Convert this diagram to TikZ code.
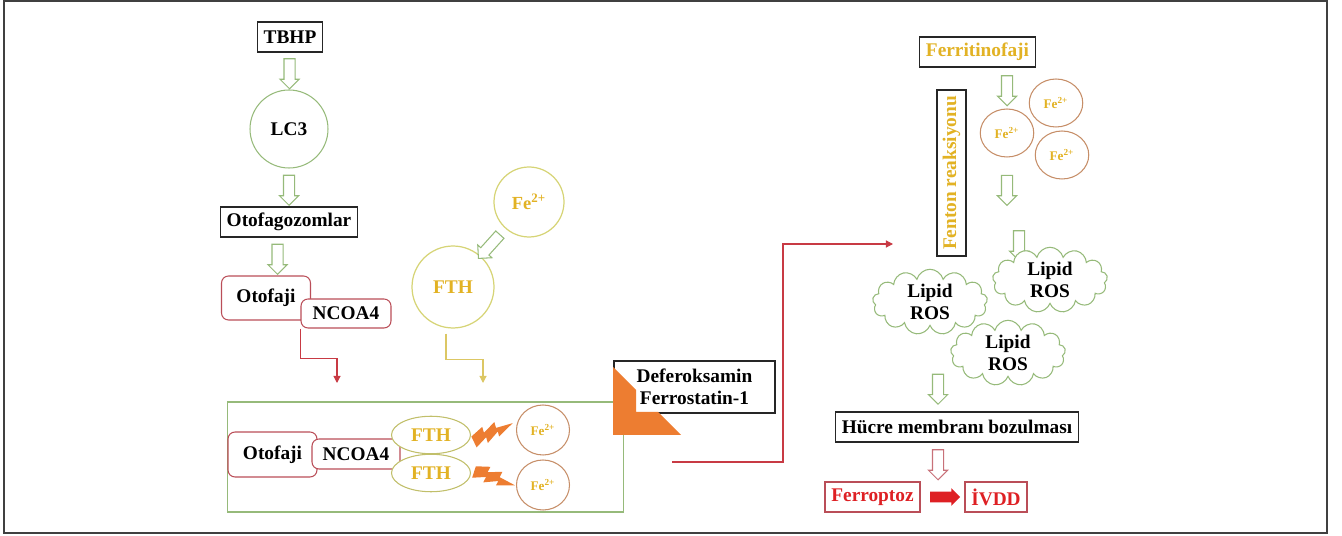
\documentclass[tikz,border=0pt]{standalone}
\usepackage{fontspec}
\setmainfont{Liberation Serif}
\usetikzlibrary{
  arrows.meta,calc,positioning,shapes.geometric,
  shapes.symbols,shapes.arrows
}
\definecolor{LeafGreen}{RGB}{150,186,122}
\definecolor{GoldText}{RGB}{226,178,36}
\definecolor{PaleYellow}{RGB}{214,212,118}
\definecolor{RustBrown}{RGB}{198,142,104}
\definecolor{BoxRed}{RGB}{186,78,88}
\definecolor{LineRed}{RGB}{200,58,68}
\definecolor{FlagRed}{RGB}{222,32,36}
\definecolor{BoltOrange}{RGB}{237,125,49}
\newcommand{\ferr}{Fe\textsuperscript{2+}}
\tikzset{
  zap/.pic={\fill[BoltOrange] (0,-6) -- (14,-10) -- (13,-4) -- (27,-9) -- (26,-3) -- (43,0)
    -- (25,6) -- (26,1) -- (12,7) -- (13,1) -- (0,6) -- cycle;}
}

\begin{document}
\begin{tikzpicture}[x=0.02cm,y=-0.02cm,
  every node/.style={font=\bfseries\fontsize{11}{12.5}\selectfont,inner sep=0pt},
  plainbox/.style={draw=black!85,line width=.6pt,fill=white,minimum height=.6cm,inner xsep=3.5pt},
  redround/.style={draw=BoxRed,line width=.6pt,fill=white,rounded corners=4pt},
  greenring/.style={circle,draw=LeafGreen,line width=.6pt},
  yellowring/.style={circle,draw=PaleYellow,line width=.7pt,text=GoldText},
  rustring/.style={ellipse,draw=RustBrown,line width=.6pt,text=GoldText,
    font=\bfseries\fontsize{7.5}{8}\selectfont},
  fthoval/.style={ellipse,draw=PaleYellow!90!black,fill=white,line width=.6pt,text=GoldText,
    minimum width=1.58cm,minimum height=.75cm},
  harrow/.style={single arrow,draw=LeafGreen,fill=white,line width=.6pt,minimum height=.6cm,
    inner sep=.1cm,single arrow head extend=.08cm,single arrow head indent=0pt},
  lipidcloud/.style={cloud,cloud puffs=13,aspect=1.8,draw=LeafGreen,fill=white,line width=.6pt,
    minimum width=2.3cm,minimum height=1.3cm,align=center},
  elbow/.style={line width=.6pt,-{Triangle[length=4pt,width=4pt]}}
]
\useasboundingbox (0,0) rectangle (1342,536);
\draw[black!75,line width=1pt] (4,1) rectangle (1327,533);

% autophagy column
\node[plainbox,minimum width=1.3cm] (tbhp) at (290,37) {TBHP};
\node[greenring,minimum size=1.56cm] (lc3) at (289,129) {LC3};
\node[plainbox,minimum width=2.7cm] (otofag) at (289,222) {Otofagozomlar};
\node[redround,minimum width=1.78cm,minimum height=.88cm] (otofaji) at (266,298) {Otofaji};
\node[redround,minimum width=1.8cm,minimum height=.58cm] (ncoa) at (346,313.5) {NCOA4};
\node[harrow,rotate=-90] at ($(tbhp.south)!.5!(lc3.north)$) {};
\node[harrow,rotate=-90] at ($(lc3.south)!.5!(otofag.north)$) {};
\node[harrow,rotate=-90] at ($(otofag.south)!.5!(otofaji.north)$) {};

% iron and ferritin
\node[yellowring,minimum size=1.4cm,font=\bfseries\fontsize{10.5}{12}\selectfont] (fetop) at (529,202) {\ferr};
\node[yellowring,minimum size=1.64cm] (fth) at (453,287) {FTH};
\node[harrow,rotate=-132,minimum height=.64cm] at ($(fetop)!.5!(fth)$) {};

\coordinate (redtip) at (337,383);
\coordinate (fthtail) at ($(fth.south)+(-7,5)$);
\coordinate (yellowtip) at (483,383);
\draw[elbow,LineRed] (ncoa.south west) -- ++(0,30) -| (redtip);
\draw[elbow,PaleYellow!85!orange] (fthtail) -- ++(0,26) -| (yellowtip);

% complex box
\node[draw=LeafGreen,line width=.6pt,minimum width=7.94cm,minimum height=2.2cm] (cellbox) at (425.5,457) {};
\node[redround,minimum width=1.78cm,minimum height=.9cm] (otofaji2) at (272.5,454.5) {Otofaji};
\node[redround,minimum width=1.76cm,minimum height=.6cm] (ncoa2) at (356,454) {NCOA4};
\node[fthoval] (ftha) at (431,435) {FTH};
\node[fthoval] (fthb) at (431,473) {FTH};
\node[rustring,minimum width=1.06cm,minimum height=1cm] (fea) at (543,430) {\ferr};
\node[rustring,minimum width=1.06cm,minimum height=1cm] (feb) at (543,485) {\ferr};
\pic[rotate=26] at (474,442) {zap};
\pic[rotate=-18] at (474,472) {zap};

% inhibitors
\node[plainbox,minimum width=3.22cm,minimum height=1.04cm,align=center] (drug) at (694.5,387) {Deferoksamin\\Ferrostatin-1};
\fill[BoltOrange] (613,367) -- (636,390) -- (636,412) -- (658,412) -- (681,435) -- (613,435) -- cycle;
\coordinate (drugout) at (672,462);
\coordinate (fentonin) at (893,244);
\draw[elbow,LineRed] (drugout) -- ++(111,0) |- (fentonin);

% Fenton side
\node[plainbox,minimum width=2.26cm,text=GoldText] (ferritin) at (977.5,52) {Ferritinofaji};
\node[plainbox,rotate=90,minimum width=3.28cm,minimum height=.58cm,text=GoldText] (fenton) at (951.5,173) {Fenton reaksiyonu};
\foreach \pos/\nm in {{(1056,103)}/fec,{(1007,133)}/fed,{(1062,155)}/fee}
  \node[rustring,minimum width=1.07cm,minimum height=.96cm] (\nm) at \pos {\ferr};
\node[harrow,rotate=-90] at ($(ferritin.south -| fed)!.5!(fed.north)$) {};
\node[harrow,rotate=-90] at ($(fed.south)+(0,30)$) {};
\node[harrow,rotate=-90] at (1019,243) {};

\node[lipidcloud] (lipida) at (930,302) {Lipid\\ROS};
\node[lipidcloud] (lipidb) at (1050,280) {Lipid\\ROS};
\node[lipidcloud] (lipidc) at (1008,353) {Lipid\\ROS};

\node[plainbox,minimum width=4.8cm] (hucre) at (957,427) {Hücre membranı bozulması};
\node[harrow,rotate=-90] at ($(hucre.north)+(-19,-25)$) {};
\node[plainbox,draw=BoxRed,text=FlagRed,minimum width=1.9cm] (ferroptoz) at (872.5,497) {Ferroptoz};
\node[plainbox,draw=BoxRed,text=FlagRed,minimum width=1.24cm] (ivdd) at (996,497) {İVDD};
\node[harrow,rotate=-90,draw=BoxRed!80] at ($(hucre.south)!.5!(ferroptoz.north -| hucre.south)+(-19,0)$) {};
\node[single arrow,fill=FlagRed,minimum height=.6cm,inner sep=.1cm,single arrow head extend=.07cm] at ($(ferroptoz.east)!.5!(ivdd.west)$) {};
\end{tikzpicture}
\end{document}
